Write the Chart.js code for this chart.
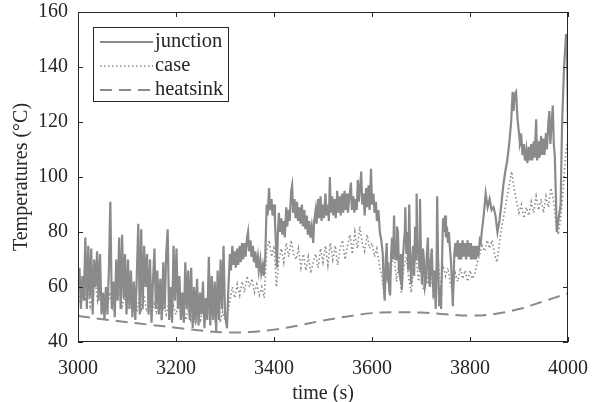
<!DOCTYPE html>
<html>
<head>
<meta charset="utf-8">
<script src="https://cdn.jsdelivr.net/npm/chart.js@4/dist/chart.umd.min.js"></script>
<style>
  html, body { margin: 0; padding: 0; background: #fff; }
  canvas { display: block; }
</style>
</head>
<body>
<canvas id="chart" width="596" height="402"></canvas>
<script>
// --- data ---
const xTicks = [3000, 3200, 3400, 3600, 3800, 4000];
const yTicks = [40, 60, 80, 100, 120, 140, 160];

const junctionTime = [
  3000,3003,3006,3009,3012,3015,3018,3021,3024,3027,3030,3033,3036,3039,3042,3045,3048,3051,3054,3057,
  3060,3063,3066,3069,3072,3075,3078,3081,3084,3087,3090,3093,3096,3099,3102,3105,3108,3111,3114,3117,
  3120,3123,3126,3129,3132,3135,3138,3141,3144,3147,3150,3153,3156,3159,3162,3165,3168,3171,3174,3177,
  3180,3183,3186,3189,3192,3195,3198,3201,3204,3207,3210,3213,3216,3219,3222,3225,3228,3231,3234,3237,
  3240,3243,3246,3249,3252,3255,3258,3261,3264,3267,3270,3273,3276,3279,3282,3285,3288,3291,3294,3297,
  3300,3304,3307,3310,3312,3315,3317,3320,3322,3325,3327,3330,3332,3335,3337,3340,3342,3345,3347,3349,
  3352,3354,3357,3359,3362,3364,3367,3369,3372,3374,3377,3379,3382,3385,3387,3390,3392,3395,3397,3400,
  3402,3404,3406,3408,3410,3412,3415,3417,3420,3422,3425,3427,3430,3432,3435,3437,3439,3442,3444,3447,
  3449,3452,3454,3457,3459,3462,3464,3467,3469,3472,3474,3477,3480,3482,3485,3487,3490,3492,3495,3497,
  3500,3502,3505,3507,3510,3512,3514,3516,3519,3521,3524,3526,3529,3531,3534,3536,3539,3541,3544,3546,
  3549,3551,3554,3557,3559,3562,3564,3567,3569,3571,3573,3576,3578,3580,3583,3585,3588,3590,3593,3595,
  3598,3600,3603,3605,3608,3610,3613,3616,3619,
  3622,3624,3626,3628,3630,3632,3633,3635,3637,3639,3641,3643,3645,3647,3649,3651,3653,3655,3657,3659,
  3661,3663,3665,3667,3668,3670,3672,3674,3676,3678,3680,3682,3684,3686,3688,3690,3691,3693,3695,3697,
  3698,3700,3702,3704,3706,3708,3710,3712,3714,3716,3718,3720,3722,3724,3726,3728,3730,3732,3733,3735,
  3737,3739,3741,3743,3745,3747,3749,3751,3753,3755,3757,3759,3761,3763,3765,
  3768,3770,3772,3775,3777,3780,3782,3785,3787,3790,3792,3795,3797,
  3800,3802,3805,3807,3810,3812,3815,3817,3820,3822,3824,3828,3832,3836,3840,3844,3848,3852,3856,3860,
  3864,3868,3872,3876,3880,3884,3887,3889,3891,3894,3897,3900,3902,3905,3907,3910,3912,3915,3917,3920,
  3922,3925,3927,3930,3932,3935,3937,3940,3942,3945,3947,3950,3952,3955,3957,3960,3962,3964,3966,3969,
  3971,3973,3975,3977,3981,3985,3988,3992,3996,3998,4000];
const junctionTemp = [
  60,67,52,64,55,78,52,75,56,74,50,70,60,73,55,72,50,58,48,60,
  50,66,91,52,62,49,70,55,78,52,79,56,72,50,70,52,66,49,62,48,
  64,83,50,81,52,75,60,72,50,70,47,62,74,52,66,50,63,48,69,52,
  72,81,48,60,47,75,55,74,52,64,48,58,47,69,52,66,48,67,45,60,
  47,63,46,58,50,62,45,56,48,71,46,64,48,62,44,66,48,70,52,75,
  50,45,60,72,66,75,68,73,67,74,68,75,69,76,70,76,71,78,80,73,
  77,71,75,69,73,67,71,66,70,65,68,64,70,90,86,96,88,92,86,90,
  84,75,67,80,87,80,85,79,84,78,89,82,88,84,95,97,87,92,85,91,
  84,89,83,90,82,88,81,86,79,84,78,82,76,84,88,83,92,85,93,84,
  90,85,94,86,90,84,100,87,93,86,92,85,95,87,93,86,94,87,95,88,
  94,87,93,98,88,93,87,92,88,99,91,97,102,90,94,86,96,89,97,88,
  103,90,94,87,91,84,88,80,77,
  72,60,55,70,76,62,69,60,57,72,78,70,86,72,70,82,80,66,64,72,
  59,70,76,80,89,72,80,66,90,70,61,70,75,64,82,70,94,72,75,66,
  92,70,61,74,70,60,62,72,78,64,60,70,74,62,56,66,52,70,93,68,
  53,60,52,70,85,80,86,78,82,76,80,74,70,62,53,
  72,76,71,77,70,76,70,77,71,76,70,77,71,
  76,70,75,70,75,70,75,71,77,76,80,86,94,89,92,88,89,86,80,84,
  90,97,102,106,112,120,131,124,130,131,121,116,112,114,108,112,106,110,105,111,
  106,112,106,113,107,121,106,113,107,115,108,114,108,116,110,120,124,112,118,126,
  112,108,95,80,85,90,120,140,152,145,118];

const caseTime = [
  3000,3005,3010,3015,3020,3025,3030,3035,3040,3045,3050,3055,3060,3065,3070,3075,3080,3085,3090,3095,
  3100,3105,3110,3115,3120,3125,3130,3135,3140,3145,3150,3155,3160,3165,3170,3175,3180,3185,3190,3195,
  3200,3205,3210,3215,3220,3225,3230,3235,3240,3245,3250,3255,3260,3265,3270,3275,3280,3285,3290,3295,
  3300,3305,3310,3315,3320,3325,3330,3335,3340,3345,3350,3355,3360,3365,3370,3375,3380,3385,3390,3395,
  3400,3405,3410,3415,3420,3425,3430,3435,3440,3445,3450,3455,3460,3465,3470,3475,3480,3485,3490,3495,
  3500,3505,3510,3515,3520,3525,3530,3535,3540,3545,3550,3555,3560,3565,3570,3575,3580,3585,3590,3595,
  3600,3605,3610,3615,3620,3625,3630,3635,3640,3645,3650,3655,3660,3665,3670,3675,3680,3685,3690,3695,
  3700,3705,3710,3715,3720,3725,3730,3735,3740,3745,3750,3755,3760,3765,3770,3775,3780,3785,3790,3795,
  3800,3805,3810,3815,3820,3825,3830,3835,3840,3845,3850,3855,3860,3865,3870,3875,3880,3885,3890,3895,
  3900,3905,3910,3915,3920,3925,3930,3935,3940,3945,3950,3955,3960,3965,3970,3975,3980,3985,3990,3995,4000];
const caseTemp = [
  58,54,61,55,60,53,57,62,55,60,54,57,52,58,53,60,55,58,53,57,
  52,58,54,57,51,56,52,57,51,55,50,54,51,55,49,53,50,54,49,53,
  50,54,49,52,48,52,48,51,47,51,48,52,49,54,48,53,47,52,47,51,
  48,50,55,60,56,61,57,62,58,64,60,63,58,61,57,60,56,73,77,71,
  75,60,70,74,69,76,71,77,72,70,74,67,72,66,71,65,69,72,67,74,
  69,75,68,76,70,75,68,74,77,70,75,79,72,80,74,82,76,73,79,74,
  76,71,74,68,64,57,66,59,68,72,62,69,58,67,71,63,58,67,71,62,
  69,59,66,61,68,57,62,71,59,68,64,67,61,59,65,62,67,63,66,62,
  66,63,65,69,72,75,73,77,74,77,72,69,76,82,87,92,97,102,96,91,
  87,90,85,89,86,91,87,93,88,92,87,93,89,96,92,84,79,85,95,108,114];

const heatsinkTime = [3000,3050,3100,3150,3200,3250,3300,3350,3400,3450,3500,3550,3600,3650,3700,3750,3800,3850,3900,3950,4000];
const heatsinkTemp = [49.5,48.3,47.2,46.2,45.2,44.2,43.5,43.6,44.5,46.0,47.8,49.3,50.5,50.8,50.7,50.1,49.6,50.2,52.0,54.8,57.7];

const seriesNames = ['junction', 'case', 'heatsink'];

// --- helpers ---
const toPoints = (xs, ys) => xs.map((x, i) => ({ x: x, y: ys[i] }));
const GRAY = '#8a8a8a';
const INK = '#262626';
const FONT = "'Liberation Serif', 'Times New Roman', serif";

// frame with inward ticks + legend box, like the original figure
const framePlugin = {
  id: 'frame',
  afterDatasetsDraw(chart) {
    const { ctx, chartArea: a, scales: { x, y } } = chart;
    ctx.save();
    ctx.strokeStyle = INK;
    ctx.lineWidth = 1;
    ctx.strokeRect(Math.round(a.left) + 0.5, Math.round(a.top) + 0.5,
                   Math.round(a.width) - 1, Math.round(a.height) - 1);
    const tl = 5;
    ctx.beginPath();
    x.ticks.forEach(t => {
      const px = Math.round(x.getPixelForValue(t.value)) + 0.5;
      ctx.moveTo(px, a.bottom); ctx.lineTo(px, a.bottom - tl);
      ctx.moveTo(px, a.top); ctx.lineTo(px, a.top + tl);
    });
    y.ticks.forEach(t => {
      const py = Math.round(y.getPixelForValue(t.value)) + 0.5;
      ctx.moveTo(a.left, py); ctx.lineTo(a.left + tl, py);
      ctx.moveTo(a.right, py); ctx.lineTo(a.right - tl, py);
    });
    ctx.stroke();

    // legend
    const bx = Math.round(a.left) + 15, by = Math.round(a.top) + 15, bw = 135, bh = 74;
    ctx.fillStyle = '#fff';
    ctx.fillRect(bx, by, bw, bh);
    ctx.strokeRect(bx + 0.5, by + 0.5, bw, bh);
    ctx.font = '20.5px ' + FONT;
    ctx.textBaseline = 'middle';
    chart.data.datasets.forEach((ds, i) => {
      const ly = by + 15 + i * 24;
      ctx.save();
      ctx.strokeStyle = ds.borderColor;
      ctx.lineWidth = ds.borderWidth;
      ctx.setLineDash(ds.borderDash || []);
      ctx.beginPath();
      ctx.moveTo(bx + 7, ly); ctx.lineTo(bx + 60, ly);
      ctx.stroke();
      ctx.restore();
      ctx.fillStyle = INK;
      ctx.fillText(ds.label, bx + 62, ly);
    });
    ctx.restore();
  }
};

new Chart(document.getElementById('chart').getContext('2d'), {
  type: 'line',
  data: {
    datasets: [
      { label: seriesNames[0], data: toPoints(junctionTime, junctionTemp), borderColor: GRAY, borderWidth: 2.2, pointRadius: 0, tension: 0 },
      { label: seriesNames[1], data: toPoints(caseTime, caseTemp), borderColor: GRAY, borderWidth: 1.6, borderDash: [1.5, 2.5], pointRadius: 0, tension: 0 },
      { label: seriesNames[2], data: toPoints(heatsinkTime, heatsinkTemp), borderColor: GRAY, borderWidth: 2, borderDash: [12, 7], pointRadius: 0, tension: 0.4 }
    ]
  },
  options: {
    responsive: false,
    animation: false,
    layout: { padding: { top: 12, right: 28, left: 0, bottom: 0 } },
    plugins: { legend: { display: false }, tooltip: { enabled: false } },
    scales: {
      x: {
        type: 'linear', min: 3000, max: 4000,
        afterBuildTicks: s => { s.ticks = xTicks.map(v => ({ value: v })); },
        grid: { display: false, drawTicks: false },
        border: { display: false },
        ticks: { color: INK, font: { family: FONT, size: 20 }, padding: 15, maxRotation: 0, callback: v => String(v) },
        title: { display: true, text: 'time (s)', color: INK, font: { family: FONT, size: 20 }, padding: { top: 0, bottom: -4 } },
        afterFit: s => { s.height = 60; s.paddingLeft = 0; s.paddingRight = 0; }
      },
      y: {
        min: 40, max: 160,
        afterBuildTicks: s => { s.ticks = yTicks.map(v => ({ value: v })); },
        grid: { display: false, drawTicks: false },
        border: { display: false },
        ticks: { color: INK, font: { family: FONT, size: 20 }, padding: 10, callback: v => String(v) },
        title: { display: true, text: 'Temperatures (°C)', color: INK, font: { family: FONT, size: 20 }, padding: { top: 10, bottom: 0 } },
        afterFit: s => { s.width = 78; s.paddingTop = 0; s.paddingBottom = 0; }
      }
    }
  },
  plugins: [framePlugin]
});
</script>
</body>
</html>
